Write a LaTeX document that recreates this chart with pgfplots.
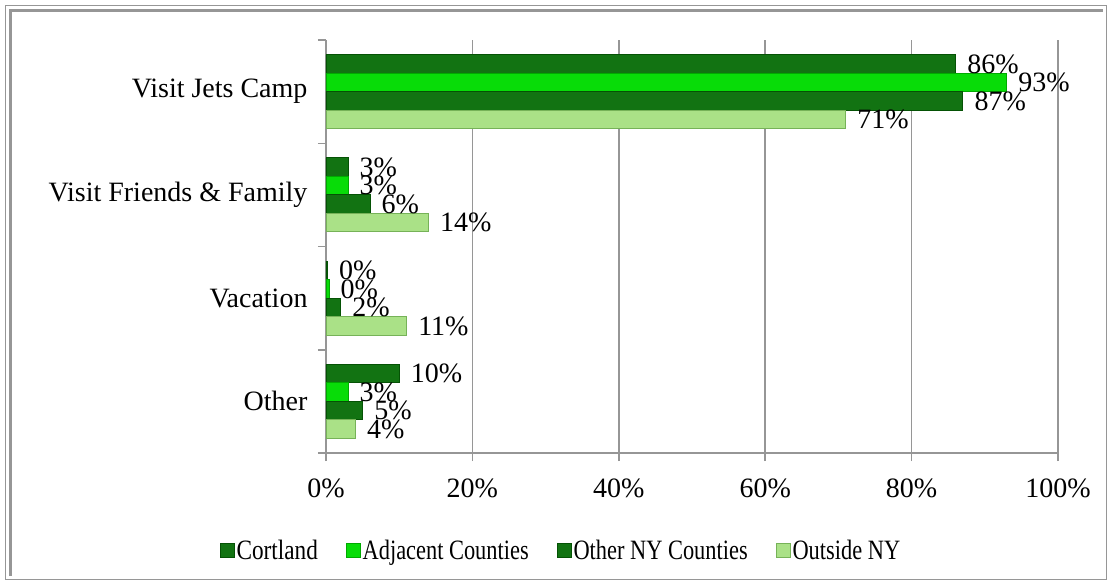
\documentclass[border=0pt]{standalone}
\usepackage{fontspec}
\setmainfont{Liberation Serif}
\usepackage{graphicx}
\usepackage{pgfplots}
\pgfplotsset{compat=1.18}

\definecolor{cortMain}{RGB}{18,115,18}
\definecolor{cortDark}{RGB}{5,82,5}
\definecolor{adjMain}{RGB}{8,220,8}
\definecolor{adjDark}{RGB}{0,170,0}
\definecolor{outMain}{RGB}{170,225,135}
\definecolor{outDark}{RGB}{118,178,88}
\definecolor{gridgray}{RGB}{150,150,150}

\newcommand{\bigfont}{\fontsize{28}{30}\selectfont}

\begin{document}
\begin{tikzpicture}
\path[use as bounding box] (0pt,0pt) rectangle (1109pt,582pt);
% frame
\draw[gridgray, line width=1pt] (5.5pt,3pt) rectangle (1106.5pt,576pt);
\draw[gridgray, line width=3pt] (10pt,6pt) -- (10pt,571pt) -- (1103pt,571pt);

\begin{axis}[
    at={(326pt,129pt)}, anchor=south west,
    scale only axis, width=732pt, height=413pt,
    xbar=0pt, bar width=18.5pt,
    xmin=0, xmax=100,
    ymin=-0.5, ymax=3.5,
    ytick={-0.5,0.5,1.5,2.5,3.5}, yticklabels={},
    extra y ticks={0,1,2,3},
    extra y tick labels={Other, Vacation, Visit Friends \& Family, Visit Jets Camp},
    extra y tick style={major tick length=0pt, yticklabel style={xshift=-15pt}},
    xtick={0,20,40,60,80,100},
    xticklabel={\pgfmathprintnumber{\tick}\%},
    xticklabel style={yshift=-14pt},
    /pgf/number format/assume math mode=true,
    tick align=outside, major tick length=8pt,
    tick style={gridgray, line width=1.5pt},
    xmajorgrids, grid style={gridgray, line width=1.5pt},
    axis x line*=bottom, axis y line*=left,
    axis line style={gridgray, line width=1.5pt, -},
    ticklabel style={font=\bigfont},
    nodes near coords={\pgfmathprintnumber[fixed,precision=0]{\pgfplotspointmeta}\%},
    every node near coord/.append style={anchor=west, font=\bigfont, xshift=8pt, black},
    legend style={at={(0.321,-0.235)}, anchor=center, draw=none, fill=none,
        font=\bigfont, legend columns=-1,
        /tikz/every even column/.append style={column sep=26pt}},
    legend image code/.code={\draw[#1] (0pt,-7pt) rectangle (14pt,7pt);},
]
\addplot[draw=cortDark, line width=0.8pt, fill=cortMain, bar shift=27.75pt]
    coordinates {(86,3) (3,2) (0.2,1) (10,0)};
\addlegendentry{\scalebox{0.83}[1]{Cortland}}
\addplot[draw=adjDark, line width=0.8pt, fill=adjMain, bar shift=9.25pt]
    coordinates {(93,3) (3,2) (0.4,1) (3,0)};
\addlegendentry{\scalebox{0.8}[1]{Adjacent Counties}}
\addplot[draw=cortDark, line width=0.8pt, fill=cortMain, bar shift=-9.25pt]
    coordinates {(87,3) (6,2) (2,1) (5,0)};
\addlegendentry{\scalebox{0.8}[1]{Other NY Counties}}
\addplot[draw=outDark, line width=0.8pt, fill=outMain, bar shift=-27.75pt]
    coordinates {(71,3) (14,2) (11,1) (4,0)};
\addlegendentry{\scalebox{0.8}[1]{Outside NY}}
\end{axis}
\end{tikzpicture}
\end{document}
